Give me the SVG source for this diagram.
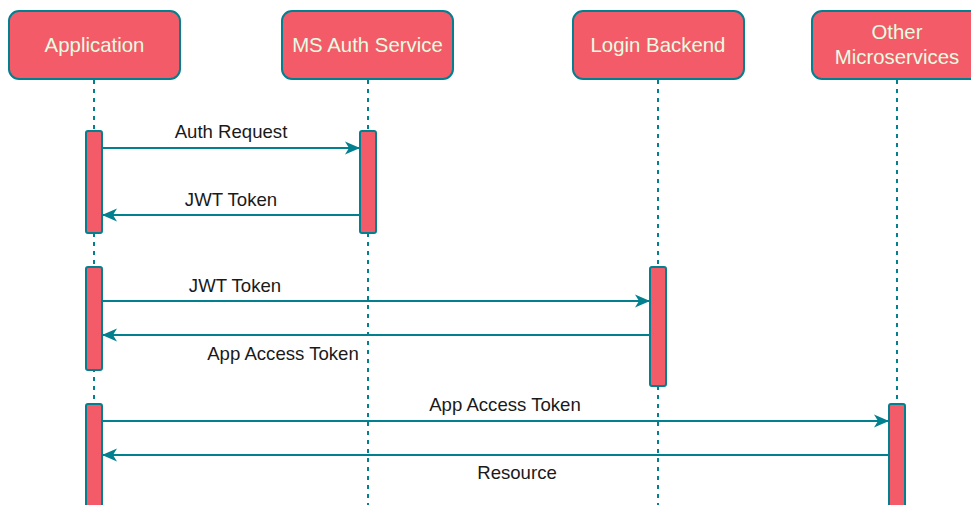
<svg xmlns="http://www.w3.org/2000/svg" width="971" height="505" viewBox="0 0 971 505">
  <style>
    .head rect { fill: #F45B69; stroke: #028090; stroke-width: 2; }
    .head text { fill: #E4FDE1; font-family: "Liberation Sans", Arial, sans-serif; font-size: 20.4px; text-anchor: middle; }
    .life { stroke: #028090; stroke-width: 2; stroke-dasharray: 4 5; fill: none; }
    .act { fill: #F45B69; stroke: #028090; stroke-width: 2; }
    .msg { stroke: #028090; stroke-width: 2; fill: none; marker-end: url(#arrow); }
    .lbl { fill: #1A1A1A; font-family: "Liberation Sans", Arial, sans-serif; font-size: 18.6px; text-anchor: middle; }
  </style>
  <defs>
    <marker id="arrow" markerWidth="16" markerHeight="16" refX="14" refY="8" orient="auto" markerUnits="userSpaceOnUse">
      <path d="M0,1.5 L15,8 L0,14.5 L4,8 Z" fill="#028090"/>
    </marker>
  </defs>
  <rect width="971" height="505" fill="#FFFFFF"/>

  <!-- lifelines -->
  <g id="lifelines">
    <line class="life" x1="94" y1="80" x2="94" y2="505"/>
    <line class="life" x1="368" y1="80" x2="368" y2="505"/>
    <line class="life" x1="658" y1="80" x2="658" y2="505"/>
    <line class="life" x1="897" y1="80" x2="897" y2="505"/>
  </g>

  <!-- participants -->
  <g id="application" class="head">
    <rect x="9" y="11" width="171" height="68" rx="10"/>
    <text x="94.5" y="52">Application</text>
  </g>
  <g id="ms-auth-service" class="head">
    <rect x="282" y="11" width="171" height="68" rx="10"/>
    <text x="367.5" y="52">MS Auth Service</text>
  </g>
  <g id="login-backend" class="head">
    <rect x="573" y="11" width="171" height="68" rx="10"/>
    <text x="658" y="52">Login Backend</text>
  </g>
  <g id="other-microservices" class="head">
    <rect x="812" y="11" width="171" height="68" rx="10"/>
    <text x="897" y="39">Other</text>
    <text x="897" y="64">Microservices</text>
  </g>

  <!-- activation bars -->
  <g id="activations">
    <rect class="act" x="86" y="131" width="16" height="102" rx="2"/>
    <rect class="act" x="360" y="131" width="16" height="102" rx="2"/>
    <rect class="act" x="86" y="267" width="16" height="103" rx="2"/>
    <rect class="act" x="650" y="267" width="16" height="119" rx="2"/>
    <rect class="act" x="86" y="404" width="16" height="110" rx="2"/>
    <rect class="act" x="889" y="404" width="16" height="110" rx="2"/>
  </g>

  <!-- messages -->
  <g id="connectors">
    <line class="msg" x1="102" y1="148" x2="359" y2="148"/>
    <line class="msg" x1="360" y1="215" x2="103" y2="215"/>
    <line class="msg" x1="102" y1="301" x2="649" y2="301"/>
    <line class="msg" x1="650" y1="335" x2="103" y2="335"/>
    <line class="msg" x1="102" y1="421" x2="888" y2="421"/>
    <line class="msg" x1="889" y1="455" x2="103" y2="455"/>
    <text class="lbl" x="231" y="138">Auth Request</text>
    <text class="lbl" x="231" y="206">JWT Token</text>
    <text class="lbl" x="235" y="292">JWT Token</text>
    <text class="lbl" x="283" y="360">App Access Token</text>
    <text class="lbl" x="505" y="411">App Access Token</text>
    <text class="lbl" x="517" y="479">Resource</text>
  </g>
</svg>
